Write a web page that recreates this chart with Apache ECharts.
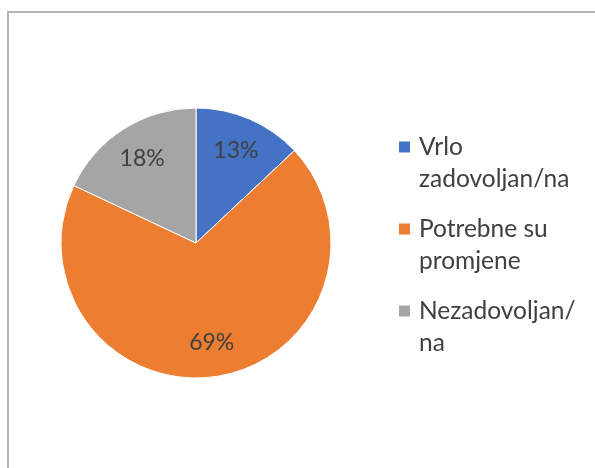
<!DOCTYPE html>
<html>
<head>
<meta charset="utf-8">
<script src="https://cdn.jsdelivr.net/npm/echarts@6/dist/echarts.min.js"></script>
<style>
body { margin: 0; background: #fff; }
#main { width: 595px; height: 468px; }
</style>
</head>
<body>
<div id="main"></div>
<script>
var categories = ['Vrlo zadovoljan/na', 'Potrebne su promjene', 'Nezadovoljan/na'];
var legendLines = ['Vrlo\nzadovoljan/na', 'Potrebne su\npromjene', 'Nezadovoljan/\nna'];
var values = [13, 69, 18];
var colors = ['#4472c4', '#ed7d31', '#a5a5a5'];

var chart = echarts.init(document.getElementById('main'));

var pieData = [];
for (var i = 0; i < categories.length; i++) {
    pieData.push({ name: categories[i], value: values[i] });
}

var option = {
    animation: false,
    color: colors,
    graphic: [{
        type: 'rect',
        shape: { x: 8, y: 12, width: 700, height: 600 },
        style: { fill: 'none', stroke: '#b4b4b4', lineWidth: 2 }
    }],
    legend: {
        orient: 'vertical',
        left: 397,
        top: 99,
        padding: 0,
        itemWidth: 13,
        itemHeight: 13,
        itemGap: -14,
        icon: 'rect',
        data: categories,
        // blank first line keeps the marker level with the first text line
        formatter: function (name) {
            return ' \n' + legendLines[categories.indexOf(name)];
        },
        textStyle: {
            fontFamily: 'Lato',
            fontSize: 24.5,
            lineHeight: 32,
            padding: [0, 0, 0, 3],
            color: '#404040'
        }
    },
    series: [{
        type: 'pie',
        center: [196, 243],
        radius: [0, 135],
        startAngle: 90,
        clockwise: true,
        data: pieData,
        label: { show: false },
        labelLine: { show: false },
        itemStyle: { borderColor: '#fff', borderWidth: 1 },
        emphasis: { disabled: true }
    }, {
        // transparent ring only for placing the percent labels
        type: 'pie',
        center: [196, 243],
        radius: [60, 135],
        startAngle: 90,
        clockwise: true,
        data: pieData,
        silent: true,
        itemStyle: { color: 'rgba(0,0,0,0)' },
        label: {
            show: true,
            position: 'inside',
            formatter: '{c}%',
            fontFamily: 'Lato',
            fontSize: 23,
            color: '#404040'
        },
        labelLine: { show: false },
        emphasis: { disabled: true }
    }]
};

chart.setOption(option);
</script>
</body>
</html>
